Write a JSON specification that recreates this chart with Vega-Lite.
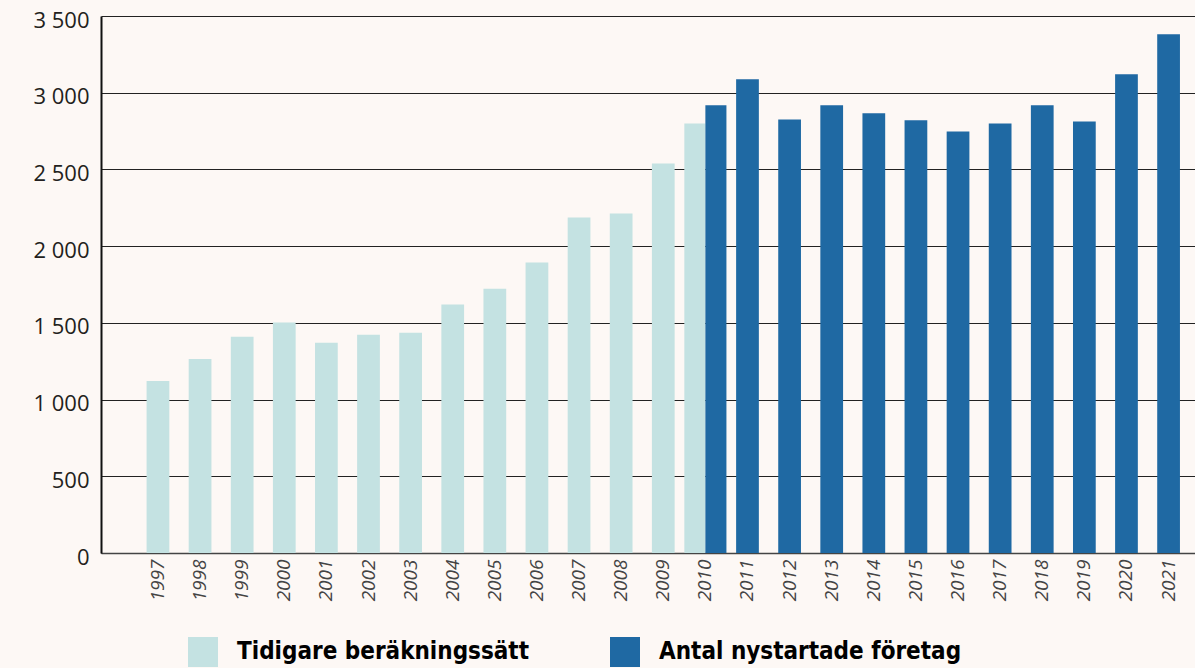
{
  "$schema": "https://vega.github.io/schema/vega-lite/v6.json",
  "width": 1094,
  "height": 537,
  "autosize": {"type": "none"},
  "padding": {"left": 101, "top": 16, "right": 0, "bottom": 115},
  "background": "#fdf8f5",
  "data": {
    "values": [
      {"year": "1997", "series": "Tidigare beräkningssätt", "value": 1121},
      {"year": "1998", "series": "Tidigare beräkningssätt", "value": 1265},
      {"year": "1999", "series": "Tidigare beräkningssätt", "value": 1410},
      {"year": "2000", "series": "Tidigare beräkningssätt", "value": 1502},
      {"year": "2001", "series": "Tidigare beräkningssätt", "value": 1371},
      {"year": "2002", "series": "Tidigare beräkningssätt", "value": 1423},
      {"year": "2003", "series": "Tidigare beräkningssätt", "value": 1436},
      {"year": "2004", "series": "Tidigare beräkningssätt", "value": 1619},
      {"year": "2005", "series": "Tidigare beräkningssätt", "value": 1723},
      {"year": "2006", "series": "Tidigare beräkningssätt", "value": 1893},
      {"year": "2007", "series": "Tidigare beräkningssätt", "value": 2187},
      {"year": "2008", "series": "Tidigare beräkningssätt", "value": 2213},
      {"year": "2009", "series": "Tidigare beräkningssätt", "value": 2539},
      {"year": "2010", "series": "Tidigare beräkningssätt", "value": 2800},
      {"year": "2010", "series": "Antal nystartade företag", "value": 2918},
      {"year": "2011", "series": "Antal nystartade företag", "value": 3087},
      {"year": "2012", "series": "Antal nystartade företag", "value": 2826},
      {"year": "2013", "series": "Antal nystartade företag", "value": 2918},
      {"year": "2014", "series": "Antal nystartade företag", "value": 2866},
      {"year": "2015", "series": "Antal nystartade företag", "value": 2820},
      {"year": "2016", "series": "Antal nystartade företag", "value": 2748},
      {"year": "2017", "series": "Antal nystartade företag", "value": 2800},
      {"year": "2018", "series": "Antal nystartade företag", "value": 2918},
      {"year": "2019", "series": "Antal nystartade företag", "value": 2813},
      {"year": "2020", "series": "Antal nystartade företag", "value": 3120},
      {"year": "2021", "series": "Antal nystartade företag", "value": 3381}
    ]
  },
  "encoding": {
    "x": {
      "field": "year",
      "type": "ordinal",
      "title": null,
      "scale": {"paddingInner": 0, "paddingOuter": 0.49, "align": 0.87},
      "axis": {
        "labelAngle": -90,
        "labelAlign": "right",
        "labelBaseline": "middle",
        "labelPadding": 6,
        "labelFont": "Open Sans",
        "labelFontSize": 19,
        "labelFontStyle": "italic",
        "labelColor": "#444444",
        "ticks": false,
        "domainColor": "#444444",
        "domainWidth": 1.5,
        "grid": false
      }
    },
    "y": {
      "field": "value",
      "type": "quantitative",
      "title": null,
      "scale": {"domain": [0, 3500], "nice": false},
      "axis": {
        "values": [0, 500, 1000, 1500, 2000, 2500, 3000, 3500],
        "format": ",d",
        "labelExpr": "replace(datum.label, ',', ' ')",
        "labelFont": "Open Sans",
        "labelFontSize": 22,
        "labelColor": "#231f20",
        "labelPadding": 12,
        "labelOffset": 4,
        "ticks": false,
        "domainColor": "#111111",
        "domainWidth": 2,
        "grid": true,
        "gridColor": "#222222",
        "gridWidth": 1
      }
    },
    "color": {
      "field": "series",
      "type": "nominal",
      "scale": {
        "domain": ["Tidigare beräkningssätt", "Antal nystartade företag"],
        "range": ["#c4e2e2", "#1f69a3"]
      },
      "legend": {
        "title": null,
        "orient": "none",
        "legendX": 87,
        "legendY": 621,
        "direction": "horizontal",
        "symbolType": "square",
        "symbolSize": 900,
        "symbolStrokeWidth": 0,
        "labelFont": "DejaVu Sans Condensed",
        "labelFontWeight": "bold",
        "labelFontSize": 24,
        "labelColor": "#000000",
        "labelOffset": 19,
        "columnPadding": 80,
        "labelLimit": 400,
        "padding": 0
      }
    }
  },
  "layer": [
    {
      "transform": [{"filter": "datum.year != '2010'"}],
      "mark": {"type": "bar", "width": {"band": 0.54}}
    },
    {
      "transform": [{"filter": "datum.year == '2010'"}],
      "mark": {"type": "bar"},
      "encoding": {
        "xOffset": {
          "field": "series",
          "type": "nominal",
          "scale": {"domain": ["Tidigare beräkningssätt", "Antal nystartade företag"]}
        }
      }
    }
  ],
  "config": {
    "view": {"stroke": null}
  }
}
